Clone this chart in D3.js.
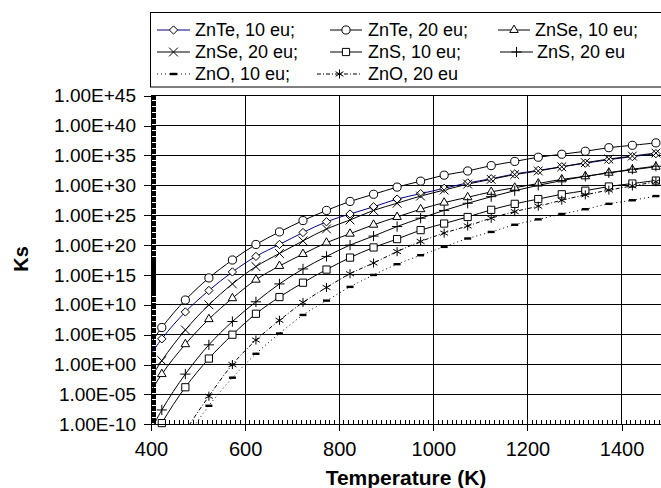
<!DOCTYPE html>
<html>
<head>
<meta charset="utf-8">
<script src="https://d3js.org/d3.v7.min.js"></script>
<style>
body { margin:0; background:#fff; }
svg { display:block; font-family: Arial, "Liberation Sans", sans-serif; }
</style>
</head>
<body>
<svg id="drawing_region"></svg>
<script>
// temperatures (K); first point lies left of the axis and is clipped
const temps = [373, 423, 473, 523, 573, 623, 673, 723, 773, 823, 873, 923,
  973, 1023, 1073, 1123, 1173, 1223, 1273, 1323, 1373, 1423, 1473];

// log10(Ks)
const znte10 = [-1.5, 4.3, 8.8, 12.4, 15.5, 18.1, 20.1, 22.1, 23.9, 25.2, 26.4, 27.7,
  28.6, 29.5, 30.4, 31.1, 31.9, 32.5, 33.1, 33.7, 34.3, 34.8, 35.3];
const znte20 = [0.3, 6.2, 10.8, 14.5, 17.5, 20.1, 22.2, 24.1, 25.8, 27.3, 28.5, 29.7,
  30.7, 31.7, 32.4, 33.3, 34.0, 34.7, 35.2, 35.7, 36.3, 36.7, 37.1];
const znse10 = [-8.1, -1.6, 3.4, 7.6, 11.1, 14.2, 16.5, 18.5, 20.4, 21.9, 23.4, 24.7,
  26.0, 27.1, 28.0, 28.9, 29.6, 30.3, 31.0, 31.5, 32.1, 32.6, 33.1];
const znse20 = [-5.8, 0.65, 5.8, 10.0, 13.5, 16.4, 18.6, 20.7, 22.7, 24.2, 25.8, 27.0,
  28.2, 29.2, 30.2, 31.0, 31.8, 32.4, 33.1, 33.8, 34.4, 34.9, 35.4];
const zns10 = [-17.5, -9.8, -3.8, 1.0, 5.0, 8.5, 11.3, 13.7, 15.9, 17.9, 19.6, 21.0,
  22.5, 23.6, 24.7, 25.9, 26.9, 27.7, 28.5, 29.1, 29.8, 30.3, 30.8];
const zns20 = [-15.2, -7.6, -1.6, 3.3, 7.2, 10.5, 13.5, 16.0, 18.1, 20.0, 21.5, 23.1,
  24.5, 25.8, 27.0, 28.1, 29.1, 30.0, 30.8, 31.5, 32.1, 32.7, 33.2];
const zno10 = [-28.9, -19.8, -12.6, -6.9, -2.2, 1.8, 5.2, 8.3, 10.7, 13.0, 15.0, 16.8,
  18.3, 19.7, 21.1, 22.2, 23.4, 24.3, 25.2, 26.0, 26.9, 27.5, 28.2];
const zno20 = [-27.8, -18.5, -11.2, -5.3, 0.0, 4.1, 7.4, 10.4, 12.9, 15.2, 17.0, 18.9,
  20.6, 22.0, 23.2, 24.5, 25.6, 26.5, 27.5, 28.4, 29.2, 29.9, 30.6];

const seriesNames = ["ZnTe, 10 eu;", "ZnTe, 20 eu;", "ZnSe, 10 eu;", "ZnSe, 20 eu;",
  "ZnS, 10 eu;", "ZnS, 20 eu", "ZnO, 10 eu;", "ZnO, 20 eu"];
const xTicks = [400, 600, 800, 1000, 1200, 1400];
const yTickExps = [-10, -5, 0, 5, 10, 15, 20, 25, 30, 35, 40, 45];

var config = {
  parent: '#drawing_region',
  width: 661,
  height: 488,
  margin: {top: 95.7, left: 151}
};
var inner_width = 517.6;
var inner_height = 328.6;

var svg = d3.select(config.parent)
  .attr('width', config.width)
  .attr('height', config.height);

var chart = svg.append('g')
  .attr('transform', `translate(${config.margin.left}, ${config.margin.top})`);

var xscale = d3.scaleLinear().domain([400, 1500]).range([0, inner_width]);
var yscale = d3.scaleLog().domain([1e-10, 1e45]).range([inner_height, 0]);

var series = [
  {name: seriesNames[0], values: znte10, sym: d3.symbolDiamond2, size: 44, color: '#000080', dash: null},
  {name: seriesNames[1], values: znte20, sym: d3.symbolCircle, size: 52, color: '#000', dash: null},
  {name: seriesNames[2], values: znse10, sym: d3.symbolTriangle2, size: 52, color: '#000', dash: null},
  {name: seriesNames[3], values: znse20, sym: d3.symbolX, size: 52, color: '#000', dash: null},
  {name: seriesNames[4], values: zns10, sym: d3.symbolSquare2, size: 66, color: '#000', dash: null},
  {name: seriesNames[5], values: zns20, sym: d3.symbolPlus, size: 36, color: '#000', dash: null},
  {name: seriesNames[6], values: zno10, sym: 'dash', size: 0, color: '#000', dash: '1,3'},
  {name: seriesNames[7], values: zno20, sym: d3.symbolAsterisk, size: 58, color: '#000', dash: '4,2,1,2'}
];
series.forEach(s => {
  s.points = temps.map((t, i) => ({t: t, v: Math.pow(10, s.values[i]), e: s.values[i]}));
});

// gridlines
chart.append('g').selectAll('line')
  .data(yTickExps.filter(e => e > -10))
  .join('line')
  .attr('x1', 0).attr('x2', inner_width)
  .attr('y1', e => yscale(Math.pow(10, e))).attr('y2', e => yscale(Math.pow(10, e)))
  .attr('stroke', '#000').attr('stroke-width', 1).attr('shape-rendering', 'crispEdges');
chart.append('g').selectAll('line')
  .data(xTicks.filter(t => t > 400))
  .join('line')
  .attr('x1', d => xscale(d)).attr('x2', d => xscale(d))
  .attr('y1', 0).attr('y2', inner_height)
  .attr('stroke', '#000').attr('stroke-width', 1).attr('shape-rendering', 'crispEdges');

// minor ticks
var minorY = [];
for (let n = -10; n < 45; n++) {
  for (let k = 1; k <= 9; k++) minorY.push(k * Math.pow(10, n));
}
chart.append('g').selectAll('line')
  .data(minorY)
  .join('line')
  .attr('x1', 0).attr('x2', 5)
  .attr('y1', d => yscale(d)).attr('y2', d => yscale(d))
  .attr('stroke', '#000').attr('stroke-width', 1).attr('shape-rendering', 'crispEdges');
chart.append('g').selectAll('line')
  .data(d3.range(410, 1500, 10))
  .join('line')
  .attr('x1', d => xscale(d)).attr('x2', d => xscale(d))
  .attr('y1', inner_height).attr('y2', inner_height - 4)
  .attr('stroke', '#000').attr('stroke-width', 1).attr('shape-rendering', 'crispEdges');

// lines
chart.append('clipPath').attr('id', 'clip')
  .append('rect').attr('width', inner_width).attr('height', inner_height);

var line = d3.line()
  .x(d => xscale(d.t))
  .y(d => yscale(d.v))
  .curve(d3.curveCatmullRom);

var lines_group = chart.append('g').attr('clip-path', 'url(#clip)');
series.forEach(s => {
  lines_group.append('path')
    .attr('d', line(s.points))
    .attr('fill', 'none')
    .attr('stroke', s.color)
    .attr('stroke-width', 1)
    .attr('stroke-dasharray', s.dash);
});

function drawMarker(g, s, x, y) {
  if (s.sym === 'dash') {
    g.append('rect')
      .attr('x', x - 3.5).attr('y', y - 1.2)
      .attr('width', 7).attr('height', 2.4)
      .attr('fill', '#000');
  } else {
    g.append('path')
      .attr('transform', `translate(${x},${y})`)
      .attr('d', d3.symbol().type(s.sym).size(s.size)())
      .attr('fill', '#fff')
      .attr('stroke', '#000')
      .attr('stroke-width', 1);
  }
}

var markers_group = chart.append('g');
series.forEach(s => {
  s.points.filter(d => d.t >= 400 && d.e >= -10).forEach(d => {
    drawMarker(markers_group, s, xscale(d.t), yscale(d.v));
  });
});

// axes
var fmt = d => {
  const e = Math.round(Math.log10(d));
  return '1.00E' + (e < 0 ? '-' : '+') + String(Math.abs(e)).padStart(2, '0');
};
var yaxis = d3.axisLeft(yscale)
  .tickValues(yTickExps.map(e => Math.pow(10, e)))
  .tickFormat(fmt)
  .tickSize(7).tickSizeOuter(0).tickPadding(8);
var xaxis = d3.axisBottom(xscale)
  .tickValues(xTicks)
  .tickFormat(d3.format('d'))
  .tickSize(7).tickSizeOuter(0).tickPadding(11);

var yaxis_group = chart.append('g').call(yaxis);
var xaxis_group = chart.append('g')
  .attr('transform', `translate(0, ${inner_height})`)
  .call(xaxis);
[yaxis_group, xaxis_group].forEach(g => {
  g.attr('font-family', 'Arial, "Liberation Sans", sans-serif');
  g.selectAll('path, line').attr('stroke', '#000').attr('shape-rendering', 'crispEdges');
  g.selectAll('text').attr('fill', '#000');
});
yaxis_group.attr('font-size', 19);
xaxis_group.attr('font-size', 20);

// axis titles
svg.append('text')
  .attr('x', 406).attr('y', 485)
  .attr('text-anchor', 'middle')
  .attr('font-size', 21).attr('font-weight', 'bold')
  .text('Temperature (K)');
svg.append('text')
  .attr('transform', 'translate(28,259) rotate(-90)')
  .attr('text-anchor', 'middle')
  .attr('font-size', 20).attr('font-weight', 'bold')
  .text('Ks');

// legend
var legend = svg.append('g');
legend.append('rect')
  .attr('x', 150.5).attr('y', 12.5)
  .attr('width', 530).attr('height', 74.5)
  .attr('fill', '#fff').attr('stroke', '#000').attr('stroke-width', 1);

var legendPos = [
  {x1: 157, x2: 190, tx: 195, y: 35.5},
  {x1: 330, x2: 362, tx: 368, y: 35.5},
  {x1: 498, x2: 530, tx: 535, y: 35.5},
  {x1: 157, x2: 190, tx: 195, y: 57.5},
  {x1: 330, x2: 362, tx: 368, y: 57.5},
  {x1: 500, x2: 533, tx: 537, y: 57.5},
  {x1: 157, x2: 190, tx: 195, y: 79.5},
  {x1: 317, x2: 362, tx: 368, y: 79.5}
];
series.forEach((s, i) => {
  const p = legendPos[i];
  const ly = p.y - 5.5;
  legend.append('line')
    .attr('x1', p.x1).attr('x2', p.x2)
    .attr('y1', ly).attr('y2', ly)
    .attr('stroke', s.color).attr('stroke-width', 1)
    .attr('stroke-dasharray', s.dash);
  drawMarker(legend, s, (p.x1 + p.x2) / 2, ly);
  legend.append('text')
    .attr('x', p.tx).attr('y', p.y)
    .attr('font-size', 18)
    .text(s.name);
});
</script>
</body>
</html>
